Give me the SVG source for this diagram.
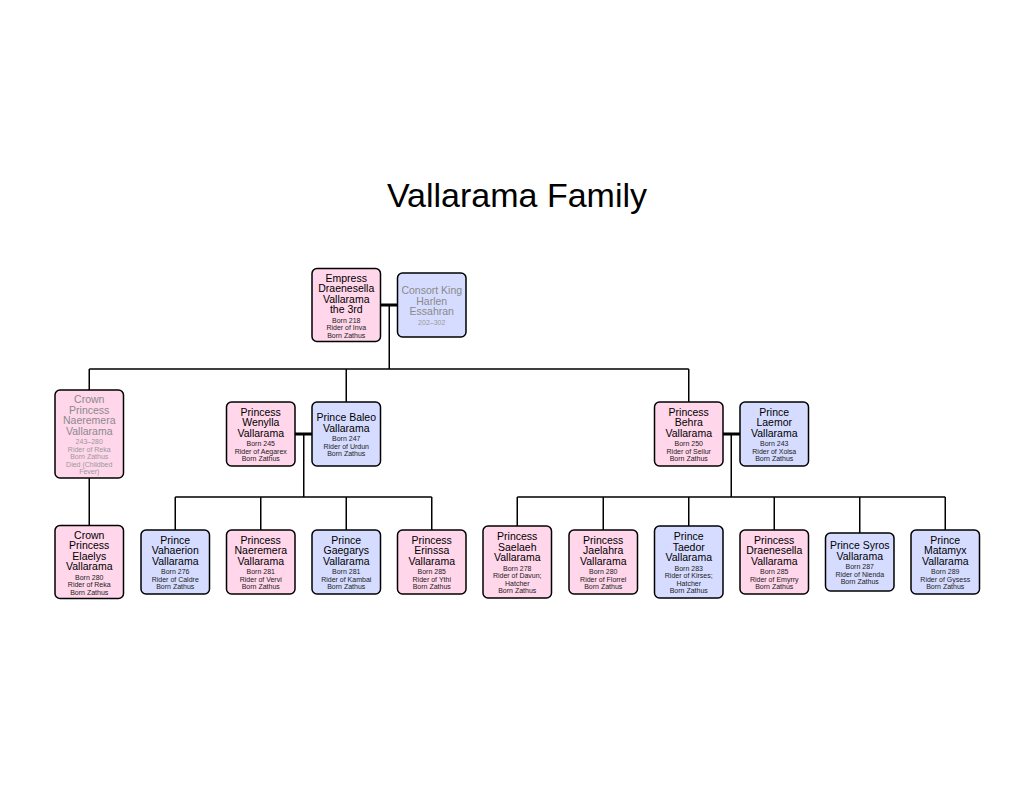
<svg xmlns="http://www.w3.org/2000/svg" width="1035" height="800" viewBox="0 0 1035 800">
<style>
.bg{fill:#ffffff}
.f{fill:#FFD6EA;stroke:#000;stroke-width:1.5}
.m{fill:#D6DCFF;stroke:#000;stroke-width:1.5}
text{font-family:"Liberation Sans",Arial,sans-serif;text-anchor:middle}
.t{font-size:10.5px;fill:#000}
.d{font-size:7px;fill:#222}
.gt{font-size:10.5px;fill:#8a8a8a}
.gd{font-size:7px;fill:#9a9a9a}
.title{font-size:34px;fill:#000}
.mar{stroke:#000;stroke-width:3;fill:none}
.des{stroke:#000;stroke-width:1.5;fill:none}
</style>
<rect class="bg" x="0" y="0" width="1035" height="800"/>
<text class="title" x="517" y="207">Vallarama Family</text>

<g id="connectors">
<path class="mar" d="M381,305H397.5M295,434H312M723,434H740"/>
<path class="des" d="M389.25,305V369M89.25,369H688.75M89.25,369V390M346.25,369V402M688.75,369V402M89.25,478V525.5M303.75,434V497M175.25,497H431.75M175.25,497V530M260.75,497V530M346.25,497V530M431.75,497V530M731.25,434V497M517.25,497H945.25M517.25,497V526M603.25,497V530M688.75,497V526M774.25,497V530M859.75,497V533M945.25,497V530"/>
</g>

<g id="empress">
<rect class="f" x="312" y="268.5" width="68.5" height="73" rx="5"/>
<text class="t" x="346.25"><tspan x="346.25" y="281.5">Empress</tspan><tspan x="346.25" y="292">Draenesella</tspan><tspan x="346.25" y="302.5">Vallarama</tspan><tspan x="346.25" y="313">the 3rd</tspan></text>
<text class="d"><tspan x="346.25" y="322.5">Born 218</tspan><tspan x="346.25" y="330">Rider of Inva</tspan><tspan x="346.25" y="337.5">Born Zathus</tspan></text>
</g>

<g id="consort">
<rect class="m" x="397.5" y="273" width="68.5" height="64" rx="5"/>
<text class="gt"><tspan x="431.75" y="294.25">Consort King</tspan><tspan x="431.75" y="304.75">Harlen</tspan><tspan x="431.75" y="315.25">Essahran</tspan></text>
<text class="gd"><tspan x="431.75" y="324.75">202–302</tspan></text>
</g>

<g id="crown-princess-naeremera">
<rect class="f" x="55" y="390" width="68.5" height="88" rx="5"/>
<text class="gt"><tspan x="89.25" y="403">Crown</tspan><tspan x="89.25" y="413.5">Princess</tspan><tspan x="89.25" y="424">Naeremera</tspan><tspan x="89.25" y="434.5">Vallarama</tspan></text>
<text class="gd"><tspan x="89.25" y="444">243–280</tspan><tspan x="89.25" y="451.5">Rider of Reka</tspan><tspan x="89.25" y="459">Born Zathus</tspan><tspan x="89.25" y="466.5">Died  (Childbed</tspan><tspan x="89.25" y="474">Fever)</tspan></text>
</g>

<g id="wenylla">
<rect class="f" x="226.5" y="402" width="68.5" height="64" rx="5"/>
<text class="t"><tspan x="260.75" y="415.75">Princess</tspan><tspan x="260.75" y="426.25">Wenylla</tspan><tspan x="260.75" y="436.75">Vallarama</tspan></text>
<text class="d"><tspan x="260.75" y="446.25">Born 245</tspan><tspan x="260.75" y="453.75">Rider of Aegarex</tspan><tspan x="260.75" y="461.25">Born Zathus</tspan></text>
</g>

<g id="baleo">
<rect class="m" x="312" y="402" width="68.5" height="64" rx="5"/>
<text class="t"><tspan x="346.25" y="421">Prince Baleo</tspan><tspan x="346.25" y="431.5">Vallarama</tspan></text>
<text class="d"><tspan x="346.25" y="441">Born 247</tspan><tspan x="346.25" y="448.5">Rider of Urdun</tspan><tspan x="346.25" y="456">Born Zathus</tspan></text>
</g>

<g id="behra">
<rect class="f" x="654.5" y="402" width="68.5" height="64" rx="5"/>
<text class="t"><tspan x="688.75" y="415.75">Princess</tspan><tspan x="688.75" y="426.25">Behra</tspan><tspan x="688.75" y="436.75">Vallarama</tspan></text>
<text class="d"><tspan x="688.75" y="446.25">Born 250</tspan><tspan x="688.75" y="453.75">Rider of Seilur</tspan><tspan x="688.75" y="461.25">Born Zathus</tspan></text>
</g>

<g id="laemor">
<rect class="m" x="740" y="402" width="68.5" height="64" rx="5"/>
<text class="t"><tspan x="774.25" y="415.75">Prince</tspan><tspan x="774.25" y="426.25">Laemor</tspan><tspan x="774.25" y="436.75">Vallarama</tspan></text>
<text class="d"><tspan x="774.25" y="446.25">Born 243</tspan><tspan x="774.25" y="453.75">Rider of Xolsa</tspan><tspan x="774.25" y="461.25">Born Zathus</tspan></text>
</g>

<g id="elaelys">
<rect class="f" x="55" y="525.5" width="68.5" height="73" rx="5"/>
<text class="t"><tspan x="89.25" y="538.5">Crown</tspan><tspan x="89.25" y="549">Princess</tspan><tspan x="89.25" y="559.5">Elaelys</tspan><tspan x="89.25" y="570">Vallarama</tspan></text>
<text class="d"><tspan x="89.25" y="579.5">Born 280</tspan><tspan x="89.25" y="587">Rider of Reka</tspan><tspan x="89.25" y="594.5">Born Zathus</tspan></text>
</g>

<g id="vahaerion">
<rect class="m" x="141" y="530" width="68.5" height="64" rx="5"/>
<text class="t"><tspan x="175.25" y="543.75">Prince</tspan><tspan x="175.25" y="554.25">Vahaerion</tspan><tspan x="175.25" y="564.75">Vallarama</tspan></text>
<text class="d"><tspan x="175.25" y="574.25">Born 276</tspan><tspan x="175.25" y="581.75">Rider of Caldre</tspan><tspan x="175.25" y="589.25">Born Zathus</tspan></text>
</g>

<g id="naeremera">
<rect class="f" x="226.5" y="530" width="68.5" height="64" rx="5"/>
<text class="t"><tspan x="260.75" y="543.75">Princess</tspan><tspan x="260.75" y="554.25">Naeremera</tspan><tspan x="260.75" y="564.75">Vallarama</tspan></text>
<text class="d"><tspan x="260.75" y="574.25">Born 281</tspan><tspan x="260.75" y="581.75">Rider of Vervi</tspan><tspan x="260.75" y="589.25">Born Zathus</tspan></text>
</g>

<g id="gaegarys">
<rect class="m" x="312" y="530" width="68.5" height="64" rx="5"/>
<text class="t"><tspan x="346.25" y="543.75">Prince</tspan><tspan x="346.25" y="554.25">Gaegarys</tspan><tspan x="346.25" y="564.75">Vallarama</tspan></text>
<text class="d"><tspan x="346.25" y="574.25">Born 281</tspan><tspan x="346.25" y="581.75">Rider of Kambai</tspan><tspan x="346.25" y="589.25">Born Zathus</tspan></text>
</g>

<g id="erinssa">
<rect class="f" x="397.5" y="530" width="68.5" height="64" rx="5"/>
<text class="t"><tspan x="431.75" y="543.75">Princess</tspan><tspan x="431.75" y="554.25">Erinssa</tspan><tspan x="431.75" y="564.75">Vallarama</tspan></text>
<text class="d"><tspan x="431.75" y="574.25">Born 285</tspan><tspan x="431.75" y="581.75">Rider of Ythi</tspan><tspan x="431.75" y="589.25">Born Zathus</tspan></text>
</g>

<g id="saelaeh">
<rect class="f" x="483" y="526" width="68.5" height="72" rx="5"/>
<text class="t"><tspan x="517.25" y="540">Princess</tspan><tspan x="517.25" y="550.5">Saelaeh</tspan><tspan x="517.25" y="561">Vallarama</tspan></text>
<text class="d"><tspan x="517.25" y="570.5">Born 278</tspan><tspan x="517.25" y="578">Rider of Davun;</tspan><tspan x="517.25" y="585.5">Hatcher</tspan><tspan x="517.25" y="593">Born Zathus</tspan></text>
</g>

<g id="jaelahra">
<rect class="f" x="569" y="530" width="68.5" height="64" rx="5"/>
<text class="t"><tspan x="603.25" y="543.75">Princess</tspan><tspan x="603.25" y="554.25">Jaelahra</tspan><tspan x="603.25" y="564.75">Vallarama</tspan></text>
<text class="d"><tspan x="603.25" y="574.25">Born 280</tspan><tspan x="603.25" y="581.75">Rider of Florrel</tspan><tspan x="603.25" y="589.25">Born Zathus</tspan></text>
</g>

<g id="taedor">
<rect class="m" x="654.5" y="526" width="68.5" height="72" rx="5"/>
<text class="t"><tspan x="688.75" y="540">Prince</tspan><tspan x="688.75" y="550.5">Taedor</tspan><tspan x="688.75" y="561">Vallarama</tspan></text>
<text class="d"><tspan x="688.75" y="570.5">Born 283</tspan><tspan x="688.75" y="578">Rider of Kirses;</tspan><tspan x="688.75" y="585.5">Hatcher</tspan><tspan x="688.75" y="593">Born Zathus</tspan></text>
</g>

<g id="draenesella">
<rect class="f" x="740" y="530" width="68.5" height="64" rx="5"/>
<text class="t"><tspan x="774.25" y="543.75">Princess</tspan><tspan x="774.25" y="554.25">Draenesella</tspan><tspan x="774.25" y="564.75">Vallarama</tspan></text>
<text class="d"><tspan x="774.25" y="574.25">Born 285</tspan><tspan x="774.25" y="581.75">Rider of Emyrry</tspan><tspan x="774.25" y="589.25">Born Zathus</tspan></text>
</g>

<g id="syros">
<rect class="m" x="825.5" y="533" width="68.5" height="58" rx="5"/>
<text class="t"><tspan x="859.75" y="549">Prince Syros</tspan><tspan x="859.75" y="559.5">Vallarama</tspan></text>
<text class="d"><tspan x="859.75" y="569">Born 287</tspan><tspan x="859.75" y="576.5">Rider of Nienda</tspan><tspan x="859.75" y="584">Born Zathus</tspan></text>
</g>

<g id="matamyx">
<rect class="m" x="911" y="530" width="68.5" height="64" rx="5"/>
<text class="t"><tspan x="945.25" y="543.75">Prince</tspan><tspan x="945.25" y="554.25">Matamyx</tspan><tspan x="945.25" y="564.75">Vallarama</tspan></text>
<text class="d"><tspan x="945.25" y="574.25">Born 289</tspan><tspan x="945.25" y="581.75">Rider of Gysess</tspan><tspan x="945.25" y="589.25">Born Zathus</tspan></text>
</g>
</svg>
